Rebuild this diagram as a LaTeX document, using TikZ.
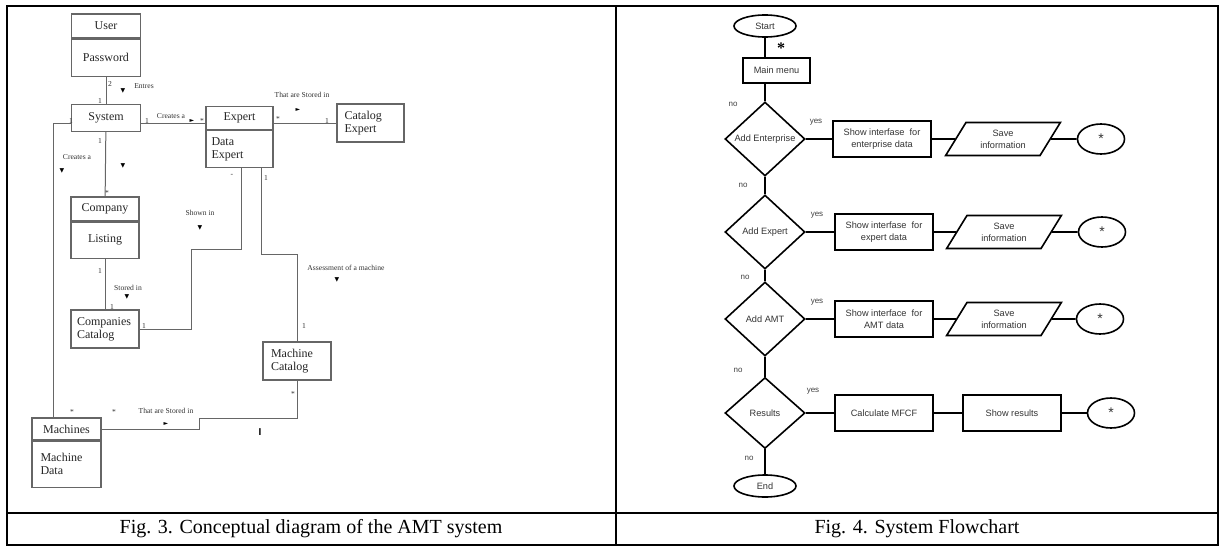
\documentclass[tikz,border=0pt]{standalone}
\usepackage{fontspec}
\setmainfont{Liberation Serif}
\newfontfamily\arial{Liberation Sans}
\newfontfamily\dejavu{DejaVu Sans}
\usetikzlibrary{positioning,shapes.geometric}

\begin{document}
\begin{tikzpicture}[x=0.5pt, y=-0.5pt, inner sep=0pt,
        box/.style = {draw=black!60, line width=0.6pt, fill=white, text=black!85, font=\fontsize{6}{6.6}\selectfont, align=center},
        lbl/.style = {text=black!80, font=\fontsize{3.8}{4.5}\selectfont},
        tri/.style = {font=\dejavu\fontsize{3}{3}\selectfont},
        link/.style = {draw=black!60, line width=0.5pt},
        flow/.style = {draw, line width=0.8pt, text=black!80, font=\arial\fontsize{4.6}{6}\selectfont, align=center},
        term/.style = {flow, ellipse, minimum width=31pt, minimum height=11pt},
        proc/.style = {flow, rectangle, minimum width=49pt, minimum height=18pt},
        cond/.style = {flow, diamond, minimum width=40pt, minimum height=37pt},
        inout/.style = {flow, trapezium, trapezium left angle=56, trapezium right angle=124, trapezium stretches=true, minimum width=57.5pt, minimum height=16.5pt},
        conn/.style = {flow, ellipse, minimum width=23.5pt, minimum height=15pt, font=\arial\fontsize{7}{7}\selectfont},
        yn/.style = {text=black!75, font=\arial\fontsize{4}{4}\selectfont}]
    \useasboundingbox (0,0) rectangle (1221,546);
    % table frame
    \draw[line width=1pt] (7,6) rectangle (1218,544.5);
    \draw[line width=1pt] (616,6) -- (616,544.5);
    \draw[line width=1pt] (7,513) -- (1218,513);
    \node[font=\fontsize{10}{12}\selectfont] (cap3) at (311,529) {Fig. 3. Conceptual diagram of the AMT system};
    \node[font=\fontsize{10}{12}\selectfont] (cap4) at (917,529) {Fig. 4. System Flowchart};

    % conceptual diagram
    \node[box, minimum width=34.5pt, minimum height=12pt] (user) at (106,26) {User};
    \node[box, minimum width=34.5pt, minimum height=18.5pt, below=0pt of user] (pass) {Password};
    \node[box, minimum width=34.5pt, minimum height=13.5pt] (system) at (106,118) {System};
    \node[box, minimum width=33.5pt, minimum height=11.5pt] (exphead) at (239.5,118) {Expert};
    \node[box, minimum width=33.5pt, minimum height=18.5pt, below=0pt of exphead, text width=28pt, align=left] (expdata) {Data\\Expert};
    \node[box, minimum width=33.5pt, minimum height=19pt, text width=26pt, align=left] (catexp) at (370.5,123) {Catalog\\Expert};
    \node[box, minimum width=34pt, minimum height=12pt] (comphead) at (105,209) {Company};
    \node[box, minimum width=34pt, minimum height=18pt, below=0pt of comphead] (complist) {Listing};
    \node[box, minimum width=34pt, minimum height=19pt, text width=28pt, align=left] (compcat) at (105,329) {Companies\\Catalog};
    \node[box, minimum width=34pt, minimum height=19pt, text width=26pt, align=left] (maccat) at (297,361) {Machine\\Catalog};
    \node[box, minimum width=34.5pt, minimum height=11pt] (machead) at (66.5,429) {Machines};
    \node[box, minimum width=34.5pt, minimum height=23pt, below=0pt of machead, text width=26pt, align=left] (macdata) {Machine\\Data};

    \coordinate (k1) at (191,249);
    \coordinate (k2) at (297,254);
    \coordinate (k3) at (199,418);
    \draw[link] (pass) -- (system);
    \draw[link] (system) -- (comphead);
    \draw[link] (complist) -- (compcat);
    \draw[link] ([yshift=-2.5pt]system.east) -- ([yshift=-2.5pt]system.east -| exphead.west);
    \draw[link] ([yshift=-2.5pt]exphead.east) -- ([yshift=-2.5pt]exphead.east -| catexp.west);
    \draw[link] ([yshift=-2.5pt]system.west) -| ([xshift=-6.75pt]machead.north);
    \draw[link] ([xshift=0.75pt]expdata.south) |- (k1) |- (compcat.east);
    \draw[link] ([xshift=10.75pt]expdata.south) |- (k2) -- (maccat.north);
    \draw[link] (maccat.south) |- (k3) |- (machead.east);

    \node[lbl] (m1) at (110,84) {2};
    \node[tri] (t1) at (123,91) {▼};
    \node[lbl] (l1) at (144,86) {Entres};
    \node[lbl] (m2) at (100,101) {1};
    \node[lbl] (m3) at (71,121) {1};
    \node[lbl] (m4) at (147,121) {1};
    \node[lbl] (l2) at (171,116) {Creates a};
    \node[tri] (t2) at (192,121) {►};
    \node[lbl] (m5) at (202,121) {*};
    \node[lbl] (m6) at (278,119) {*};
    \node[lbl] (l3) at (302,95) {That are Stored in};
    \node[tri] (t3) at (298,110) {►};
    \node[lbl] (m7) at (327,121) {1};
    \node[lbl] (m8) at (232,175) {-};
    \node[lbl] (m9) at (266,178) {1};
    \node[lbl] (l4) at (200,213) {Shown in};
    \node[tri] (t4) at (200,228) {▼};
    \node[lbl] (m10) at (100,141) {1};
    \node[lbl] (l5) at (77,157) {Creates a};
    \node[tri] (t5) at (62,171) {▼};
    \node[tri] (t6) at (123,166) {▼};
    \node[lbl] (m11) at (107,193) {*};
    \node[lbl] (m12) at (100,271) {1};
    \node[lbl] (l6) at (128,288) {Stored in};
    \node[tri] (t7) at (127,297) {▼};
    \node[lbl] (m13) at (112,307) {1};
    \node[lbl] (m14) at (144,326) {1};
    \node[lbl] (l7) at (346,268) {Assessment of a machine};
    \node[tri] (t8) at (337,280) {▼};
    \node[lbl] (m15) at (304,326) {1};
    \node[lbl] (m16) at (293,394) {*};
    \node[lbl] (l8) at (166,411) {That are Stored in};
    \node[tri] (t9) at (166,424) {►};
    \node[lbl] (m17) at (114,412) {*};
    \node[lbl] (m18) at (72,412) {*};
    \node[font=\arial\bfseries\fontsize{5}{5}\selectfont] (bar) at (260,432) {I};

    % flowchart
    \node[term] (start) at (765,26) {Start};
    \node[proc, minimum width=33.5pt, minimum height=12.5pt] (menu) at (776.5,70.5) {Main menu};
    \node[cond] (q1) at (765,139) {Add Enterprise};
    \node[cond] (q2) at (765,232) {Add Expert};
    \node[cond] (q3) at (765,319) {Add AMT};
    \node[cond, minimum height=35.5pt] (q4) at (765,413) {Results};
    \node[term] (end) at (765,486) {End};
    \node[proc] (show1) at (882,139) {Show interfase \ for\\enterprise data};
    \node[proc] (show2) at (884,232) {Show interfase \ for\\expert data};
    \node[proc] (show3) at (884,319) {Show interface \ for\\AMT data};
    \node[proc] (calc) at (884,413) {Calculate MFCF};
    \node[inout] (save1) at (1003,139) {Save\\information};
    \node[inout] (save2) at (1004,232) {Save\\information};
    \node[inout] (save3) at (1004,319) {Save\\information};
    \node[proc] (res) at (1012,413) {Show results};
    \node[conn] (c1) at (1101,139) {*};
    \node[conn] (c2) at (1102,232) {*};
    \node[conn] (c3) at (1100,319) {*};
    \node[conn] (c4) at (1111,413) {*};

    \draw[line width=0.8pt] (start) -- (start |- menu.north);
    \draw[line width=0.8pt] (q1.north |- menu.south) -- (q1);
    \draw[line width=0.8pt] (q1) -- (q2);
    \draw[line width=0.8pt] (q2) -- (q3);
    \draw[line width=0.8pt] (q3) -- (q4);
    \draw[line width=0.8pt] (q4) -- (end);
    \draw[line width=0.8pt] (q1) -- (show1) -- (save1) -- (c1);
    \draw[line width=0.8pt] (q2) -- (show2) -- (save2) -- (c2);
    \draw[line width=0.8pt] (q3) -- (show3) -- (save3) -- (c3);
    \draw[line width=0.8pt] (q4) -- (calc) -- (res) -- (c4);

    \node[font=\bfseries\fontsize{8}{8}\selectfont] (star) at (781,48) {*};
    \node[yn] (n1) at (733,104) {no};
    \node[yn] (y1) at (816,122) {yes};
    \node[yn] (n2) at (743,185) {no};
    \node[yn] (y2) at (817,215) {yes};
    \node[yn] (n3) at (745,277) {no};
    \node[yn] (y3) at (817,302) {yes};
    \node[yn] (n4) at (738,370) {no};
    \node[yn] (y4) at (813,391) {yes};
    \node[yn] (n5) at (749,458) {no};
\end{tikzpicture}
\end{document}
